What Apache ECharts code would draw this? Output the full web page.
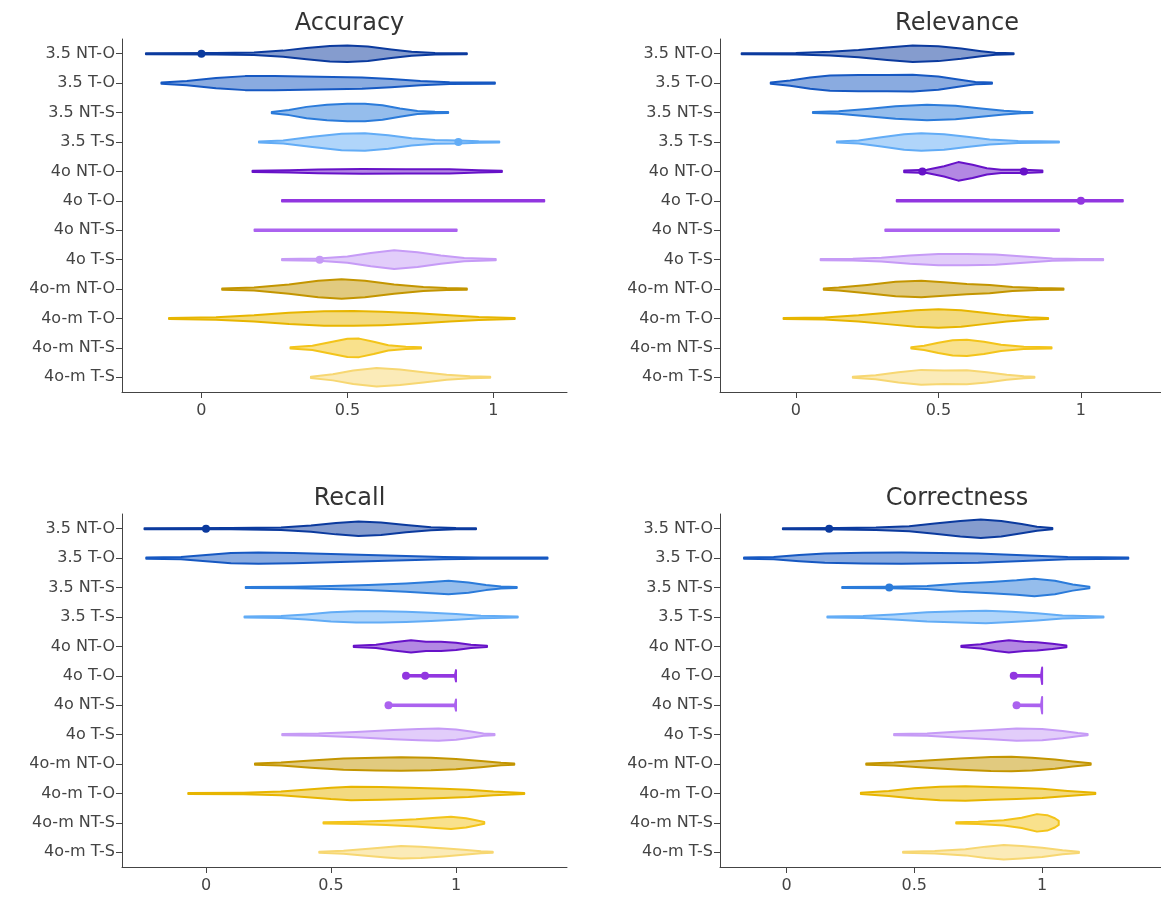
<!DOCTYPE html>
<html>
<head>
<meta charset="utf-8">
<script src="https://cdn.jsdelivr.net/npm/echarts@6/dist/echarts.min.js"></script>
<style>
  html, body { margin: 0; padding: 0; background: #fff; }
  #chart { width: 1161px; height: 900px; }
</style>
</head>
<body>
<div id="chart"></div>
<script>
// categories, top to bottom
const categories = ['3.5 NT-O', '3.5 T-O', '3.5 NT-S', '3.5 T-S', '4o NT-O', '4o T-O',
  '4o NT-S', '4o T-S', '4o-m NT-O', '4o-m T-O', '4o-m NT-S', '4o-m T-S'];

const xTicks = [0, 0.5, 1];

// violin outlines: [score, relative density]
const accuracy = [
  [[-0.19,0.05],[0.05,0.07],[0.18,0.12],[0.28,0.3],[0.36,0.55],[0.44,0.75],[0.5,0.8],[0.57,0.7],[0.65,0.42],[0.72,0.2],[0.8,0.08],[0.909,0.05]],
  [[-0.137,0.05],[-0.05,0.2],[0.05,0.5],[0.15,0.68],[0.25,0.7],[0.35,0.65],[0.45,0.6],[0.55,0.55],[0.65,0.4],[0.75,0.2],[0.85,0.08],[1.005,0.05]],
  [[0.241,0.06],[0.3,0.25],[0.36,0.55],[0.43,0.75],[0.5,0.85],[0.56,0.85],[0.62,0.7],[0.68,0.4],[0.74,0.15],[0.8,0.07],[0.845,0.05]],
  [[0.197,0.05],[0.28,0.15],[0.38,0.5],[0.48,0.8],[0.56,0.85],[0.64,0.65],[0.72,0.35],[0.8,0.18],[0.88,0.15],[0.95,0.07],[1.02,0.05]],
  [[0.175,0.05],[0.3,0.1],[0.4,0.18],[0.55,0.22],[0.7,0.2],[0.85,0.2],[0.95,0.1],[1.029,0.06]],
  [[0.276,0.07],[1.174,0.07]],
  [[0.182,0.07],[0.874,0.07]],
  [[0.276,0.07],[0.4,0.1],[0.5,0.3],[0.58,0.65],[0.66,0.9],[0.74,0.72],[0.82,0.4],[0.9,0.15],[1.008,0.06]],
  [[0.071,0.06],[0.18,0.15],[0.3,0.45],[0.4,0.8],[0.48,0.95],[0.56,0.8],[0.66,0.45],[0.76,0.2],[0.84,0.1],[0.909,0.06]],
  [[-0.111,0.05],[0.05,0.12],[0.18,0.3],[0.3,0.55],[0.42,0.7],[0.52,0.72],[0.62,0.65],[0.74,0.5],[0.85,0.3],[0.95,0.15],[1.073,0.05]],
  [[0.305,0.06],[0.38,0.2],[0.44,0.55],[0.5,0.88],[0.54,0.9],[0.59,0.6],[0.64,0.25],[0.7,0.1],[0.752,0.06]],
  [[0.375,0.06],[0.45,0.3],[0.52,0.65],[0.6,0.9],[0.68,0.75],[0.76,0.5],[0.84,0.25],[0.92,0.1],[0.989,0.05]]
];
const accuracyPoints = [[0.0, 0], [0.88, 3], [0.405, 7]];

const relevance = [
  [[-0.19,0.05],[0.0,0.08],[0.12,0.18],[0.22,0.35],[0.32,0.6],[0.41,0.8],[0.5,0.72],[0.58,0.5],[0.65,0.25],[0.7,0.1],[0.764,0.05]],
  [[-0.088,0.06],[-0.02,0.25],[0.05,0.55],[0.12,0.75],[0.22,0.78],[0.32,0.8],[0.41,0.82],[0.5,0.65],[0.57,0.35],[0.63,0.12],[0.688,0.06]],
  [[0.06,0.05],[0.15,0.12],[0.25,0.35],[0.35,0.6],[0.46,0.75],[0.56,0.65],[0.65,0.4],[0.73,0.18],[0.79,0.08],[0.83,0.05]],
  [[0.144,0.05],[0.22,0.15],[0.3,0.45],[0.38,0.75],[0.44,0.85],[0.52,0.75],[0.6,0.5],[0.68,0.25],[0.78,0.1],[0.923,0.05]],
  [[0.38,0.08],[0.46,0.15],[0.52,0.5],[0.57,0.9],[0.62,0.65],[0.67,0.3],[0.72,0.15],[0.8,0.15],[0.865,0.08]],
  [[0.354,0.07],[1.147,0.07]],
  [[0.314,0.07],[0.923,0.07]],
  [[0.087,0.05],[0.2,0.08],[0.3,0.18],[0.4,0.4],[0.5,0.55],[0.6,0.55],[0.7,0.5],[0.8,0.3],[0.9,0.12],[1.0,0.06],[1.078,0.05]],
  [[0.098,0.06],[0.15,0.15],[0.25,0.4],[0.35,0.7],[0.44,0.8],[0.52,0.65],[0.6,0.5],[0.68,0.4],[0.76,0.2],[0.85,0.1],[0.939,0.06]],
  [[-0.043,0.05],[0.1,0.1],[0.22,0.3],[0.32,0.55],[0.42,0.8],[0.5,0.9],[0.58,0.8],[0.66,0.55],[0.74,0.3],[0.82,0.12],[0.885,0.05]],
  [[0.405,0.06],[0.45,0.2],[0.5,0.5],[0.55,0.75],[0.6,0.78],[0.66,0.6],[0.72,0.3],[0.8,0.12],[0.897,0.05]],
  [[0.2,0.05],[0.28,0.2],[0.36,0.5],[0.44,0.72],[0.52,0.65],[0.6,0.68],[0.67,0.5],[0.74,0.25],[0.8,0.1],[0.837,0.05]]
];
const relevancePoints = [[0.444, 4], [0.8, 4], [1.0, 5]];

const recall = [
  [[-0.246,0.05],[0.1,0.06],[0.3,0.12],[0.42,0.3],[0.52,0.55],[0.61,0.7],[0.7,0.6],[0.8,0.35],[0.9,0.15],[1.0,0.06],[1.08,0.05]],
  [[-0.239,0.05],[-0.1,0.1],[0.0,0.3],[0.1,0.5],[0.21,0.55],[0.35,0.5],[0.5,0.4],[0.65,0.3],[0.8,0.2],[0.95,0.12],[1.1,0.07],[1.366,0.05]],
  [[0.159,0.05],[0.35,0.08],[0.5,0.15],[0.65,0.25],[0.8,0.4],[0.9,0.55],[0.97,0.65],[1.05,0.5],[1.12,0.25],[1.18,0.1],[1.243,0.05]],
  [[0.154,0.05],[0.3,0.1],[0.4,0.25],[0.5,0.45],[0.6,0.55],[0.7,0.55],[0.8,0.5],[0.9,0.4],[1.0,0.28],[1.1,0.12],[1.247,0.05]],
  [[0.591,0.06],[0.68,0.15],[0.75,0.4],[0.82,0.6],[0.88,0.45],[0.94,0.45],[1.0,0.35],[1.06,0.15],[1.124,0.06]],
  [[0.8,0.07],[0.996,0.1],[1.0,0.55]],
  [[0.73,0.07],[0.996,0.1],[1.0,0.55]],
  [[0.305,0.05],[0.45,0.1],[0.6,0.25],[0.75,0.45],[0.85,0.55],[0.93,0.6],[1.0,0.5],[1.06,0.3],[1.11,0.12],[1.154,0.05]],
  [[0.196,0.06],[0.3,0.15],[0.42,0.35],[0.55,0.55],[0.68,0.62],[0.78,0.65],[0.9,0.6],[1.0,0.5],[1.1,0.3],[1.18,0.12],[1.233,0.06]],
  [[-0.071,0.05],[0.15,0.08],[0.3,0.18],[0.42,0.4],[0.5,0.55],[0.58,0.65],[0.7,0.62],[0.82,0.55],[0.95,0.45],[1.05,0.35],[1.15,0.18],[1.273,0.05]],
  [[0.47,0.05],[0.6,0.1],[0.72,0.2],[0.84,0.35],[0.92,0.5],[0.98,0.6],[1.04,0.45],[1.08,0.25],[1.113,0.08]],
  [[0.453,0.05],[0.55,0.15],[0.65,0.35],[0.72,0.5],[0.78,0.6],[0.86,0.55],[0.95,0.4],[1.03,0.25],[1.1,0.1],[1.147,0.05]]
];
const recallPoints = [[0.0, 0], [0.8, 5], [0.876, 5], [0.73, 6]];

const correctness = [
  [[-0.014,0.05],[0.2,0.07],[0.35,0.12],[0.48,0.25],[0.58,0.5],[0.68,0.75],[0.76,0.9],[0.84,0.75],[0.92,0.45],[0.98,0.2],[1.04,0.06]],
  [[-0.166,0.05],[-0.05,0.1],[0.05,0.3],[0.15,0.45],[0.3,0.52],[0.45,0.55],[0.6,0.5],[0.75,0.45],[0.9,0.3],[1.0,0.2],[1.1,0.1],[1.337,0.05]],
  [[0.218,0.05],[0.4,0.07],[0.55,0.15],[0.68,0.4],[0.8,0.55],[0.9,0.7],[0.97,0.85],[1.05,0.65],[1.12,0.3],[1.185,0.08]],
  [[0.16,0.05],[0.3,0.1],[0.42,0.25],[0.55,0.45],[0.68,0.55],[0.78,0.6],[0.88,0.5],[0.98,0.35],[1.08,0.15],[1.24,0.05]],
  [[0.684,0.06],[0.76,0.2],[0.82,0.45],[0.87,0.6],[0.93,0.45],[0.98,0.4],[1.04,0.25],[1.095,0.08]],
  [[0.889,0.07],[0.996,0.1],[1.0,0.8]],
  [[0.9,0.07],[0.996,0.1],[1.0,0.8]],
  [[0.421,0.05],[0.55,0.12],[0.68,0.3],[0.8,0.45],[0.9,0.6],[1.0,0.55],[1.08,0.35],[1.14,0.15],[1.178,0.06]],
  [[0.312,0.06],[0.42,0.15],[0.55,0.35],[0.68,0.55],[0.8,0.68],[0.88,0.7],[0.96,0.62],[1.05,0.45],[1.12,0.25],[1.19,0.08]],
  [[0.291,0.06],[0.4,0.25],[0.5,0.5],[0.6,0.65],[0.7,0.7],[0.8,0.62],[0.9,0.55],[1.0,0.45],[1.1,0.25],[1.208,0.06]],
  [[0.664,0.05],[0.75,0.1],[0.85,0.25],[0.92,0.5],[0.98,0.85],[1.02,0.75],[1.05,0.45],[1.065,0.2]],
  [[0.456,0.05],[0.58,0.12],[0.7,0.3],[0.78,0.55],[0.85,0.7],[0.92,0.6],[1.0,0.45],[1.08,0.2],[1.144,0.06]]
];
const correctnessPoints = [[0.167, 0], [0.402, 2], [0.889, 5], [0.9, 6]];

// one colour per model/setting
const colors = ['#0b3a9e', '#1658c2', '#2b7bda', '#62acf6', '#6712c8', '#9236e0',
  '#ab62ef', '#c69bf6', '#c39500', '#e7b500', '#f3c41a', '#f7d772'];

const panels = [
  { title: 'Accuracy', data: accuracy, points: accuracyPoints, left: 122, top: 39, width: 445, min: -0.272, max: 1.252 },
  { title: 'Relevance', data: relevance, points: relevancePoints, left: 720, top: 39, width: 464, min: -0.266, max: 1.281 },
  { title: 'Recall', data: recall, points: recallPoints, left: 122, top: 514, width: 445, min: -0.336, max: 1.444 },
  { title: 'Correctness', data: correctness, points: correctnessPoints, left: 720, top: 514, width: 464, min: -0.26, max: 1.465 }
];

function hexToRgba(hex, a) {
  const n = parseInt(hex.slice(1), 16);
  return `rgba(${(n >> 16) & 255}, ${(n >> 8) & 255}, ${n & 255}, ${a})`;
}

function violinRenderer(profiles) {
  return function (params, api) {
    const i = params.dataIndex;
    const band = api.size([0, 1])[1];
    const top = [];
    const bottom = [];
    profiles[i].forEach(p => {
      const c = api.coord([p[0], i]);
      const h = p[1] * band * 0.35;
      top.push([c[0], c[1] - h]);
      bottom.unshift([c[0], c[1] + h]);
    });
    return {
      type: 'polygon',
      shape: { points: top.concat(bottom) },
      style: {
        fill: hexToRgba(colors[i], 0.5),
        stroke: colors[i],
        lineWidth: 2,
        lineJoin: 'round'
      }
    };
  };
}

const axisColor = '#444';
const labelFont = { color: '#444', fontSize: 16, fontFamily: 'DejaVu Sans' };

const option = {
  backgroundColor: '#fff',
  animation: false,
  title: panels.map(p => ({
    text: p.title,
    left: p.left + p.width / 2,
    top: p.top - 32,
    textAlign: 'center',
    textStyle: { color: '#333', fontSize: 24, fontWeight: 'normal', fontFamily: 'DejaVu Sans' }
  })),
  grid: panels.map(p => ({ left: p.left, top: p.top, width: p.width, height: 353 })),
  xAxis: panels.map((p, k) => ({
    type: 'value',
    gridIndex: k,
    min: p.min,
    max: p.max,
    splitLine: { show: false },
    axisLine: { show: true, onZero: false, lineStyle: { color: axisColor, width: 1 } },
    axisTick: { show: true, customValues: xTicks, length: 6, lineStyle: { color: axisColor } },
    axisLabel: Object.assign({ customValues: xTicks, margin: 11 }, labelFont)
  })),
  yAxis: panels.map((p, k) => ({
    type: 'category',
    gridIndex: k,
    data: categories,
    inverse: true,
    axisLine: { show: true, onZero: false, lineStyle: { color: axisColor, width: 1 } },
    axisTick: { show: true, alignWithLabel: true, length: 6, lineStyle: { color: axisColor } },
    axisLabel: Object.assign({ margin: 7 }, labelFont),
    splitLine: { show: false }
  })),
  series: []
};

panels.forEach((p, k) => {
  option.series.push({
    type: 'custom',
    xAxisIndex: k,
    yAxisIndex: k,
    renderItem: violinRenderer(p.data),
    data: p.data.map((prof, i) => [prof[0][0], i]),
    encode: { x: 0, y: 1 },
    silent: true
  });
  option.series.push({
    type: 'scatter',
    xAxisIndex: k,
    yAxisIndex: k,
    symbol: 'circle',
    symbolSize: 8,
    data: p.points,
    itemStyle: { color: params => colors[params.value[1]], opacity: 1 },
    z: 5
  });
});

const chart = echarts.init(document.getElementById('chart'));
chart.setOption(option);
window.addEventListener('resize', () => chart.resize());
</script>
</body>
</html>
